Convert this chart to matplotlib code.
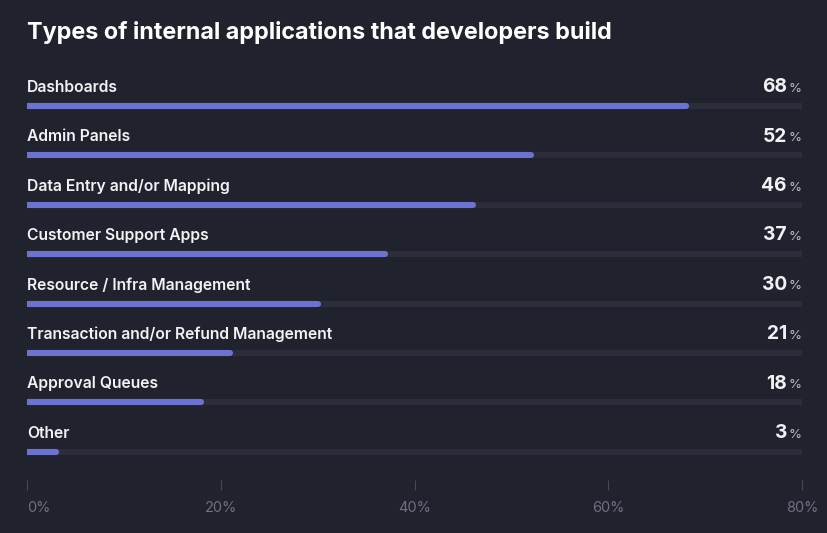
import matplotlib.pyplot as plt

categories = [
    "Dashboards",
    "Admin Panels",
    "Data Entry and/or Mapping",
    "Customer Support Apps",
    "Resource / Infra Management",
    "Transaction and/or Refund Management",
    "Approval Queues",
    "Other",
]
values = [68, 52, 46, 37, 30, 21, 18, 3]
tick_values = [0, 20, 40, 60, 80]
tick_labels = ["0%", "20%", "40%", "60%", "80%"]
axis_max = 80

bg = "#20222e"
track = "#2b2d3a"
bar_color = "#6b72d1"
text_color = "#f2f2f5"
muted = "#6e707d"

plt.rcParams["font.family"] = ["Inter", "DejaVu Sans"]

fig = plt.figure(figsize=(8.28, 5.33), dpi=100)
fig.patch.set_facecolor(bg)

W, H = 828, 533
left, right = 27, 802
top, bottom = 60, 490
ax = fig.add_axes([left / W, 1 - bottom / H, (right - left) / W, (bottom - top) / H])
ax.set_facecolor(bg)

row_px = 49.4
first_bar_px = 106
ax.set_xlim(0, axis_max)
ax.set_ylim((bottom - first_bar_px) / row_px, (top - first_bar_px) / row_px)

for i, (cat, val) in enumerate(zip(categories, values)):
    ax.plot([0, axis_max], [i, i], color=track, lw=4.4, solid_capstyle="round", zorder=1)
    ax.plot([0, val], [i, i], color=bar_color, lw=4.4, solid_capstyle="round", zorder=2)
    ax.text(0, i - 0.38, cat, color=text_color, fontsize=11.3, fontweight="semibold",
            ha="left", va="center")
    ax.text(axis_max - 1.55, i - 0.38, str(val), color=text_color, fontsize=13.8,
            fontweight="bold", ha="right", va="center")
    ax.text(axis_max, i - 0.35, "%", color="#b9bac2", fontsize=9.5,
            ha="right", va="center")

for s in ax.spines.values():
    s.set_visible(False)
ax.set_yticks([])
ax.set_xticks(tick_values)
ax.set_xticklabels(tick_labels)
ax.tick_params(axis="x", direction="in", length=7, width=0.7, color="#4a4c59",
               labelcolor=muted, labelsize=10.5, pad=8)
ax.get_xticklabels()[0].set_horizontalalignment("left")

fig.text(27 / W, 1 - 33 / H, "Types of internal applications that developers build",
         color="white", fontsize=16.8, fontweight="bold", ha="left", va="center")

fig.savefig("out.png", dpi=100, facecolor=bg)
